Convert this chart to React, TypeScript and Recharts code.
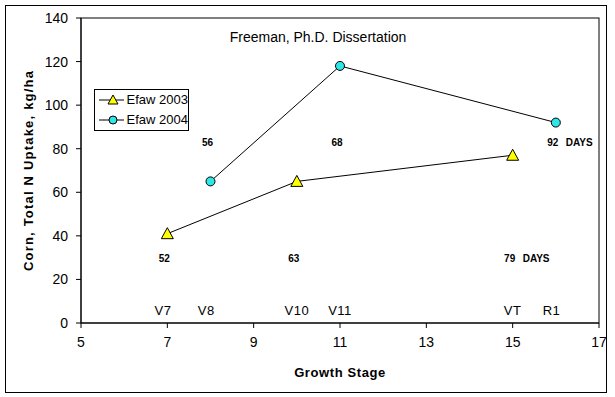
import {
  Label,
  Scatter,
  ScatterChart,
  XAxis,
  YAxis,
} from "recharts"

// growth stage (x) vs total N uptake, kg/ha (y)
const stage2003 = [7, 10, 15]
const uptake2003 = [41, 65, 77]
const stage2004 = [8, 11, 16]
const uptake2004 = [65, 118, 92]

// days after planting, written under / over the points
const days2003 = ["52", "63", "79"]
const days2003At = [7, 10, 15]
const days2004 = ["56", "68", "92"]
const days2004At = [8, 11, 16]
const daysLevel2003 = 30
const daysLevel2004 = 83

// stage names along the bottom
const stageNames = ["V7", "V8", "V10", "V11", "VT", "R1"]
const stageNameAt = [6.9, 7.9, 10, 11, 15, 15.9]
const stageNameLevel = 6

const xTicks = [5, 7, 9, 11, 13, 15, 17]
const yTicks = [0, 20, 40, 60, 80, 100, 120, 140]

const FONT = "Arial, 'Liberation Sans', sans-serif"
const YELLOW = "#ffff00"
const CYAN = "#2ee6e6"

const efaw2003 = stage2003.map((x, i) => ({ x, y: uptake2003[i] }))
const efaw2004 = stage2004.map((x, i) => ({ x, y: uptake2004[i] }))

const lastIdx2003 = days2003.length - 1
const lastIdx2004 = days2004.length - 1
const dayLabels = [
  ...days2003.map((label, i) => ({
    x: days2003At[i],
    y: daysLevel2003,
    label,
    suffix: i === lastIdx2003 ? "DAYS" : "",
  })),
  ...days2004.map((label, i) => ({
    x: days2004At[i],
    y: daysLevel2004,
    label,
    suffix: i === lastIdx2004 ? "DAYS" : "",
  })),
]

const stageLabels = stageNames.map((label, i) => ({
  x: stageNameAt[i],
  y: stageNameLevel,
  label,
}))

function Triangle(props: any) {
  const { cx, cy } = props
  if (cx == null || cy == null) return null
  const s = 6
  return (
    <polygon
      points={`${cx},${cy - s} ${cx + s},${cy + s - 1} ${cx - s},${cy + s - 1}`}
      fill={YELLOW}
      stroke="#000"
      strokeWidth={1}
    />
  )
}

function Dot(props: any) {
  const { cx, cy } = props
  if (cx == null || cy == null) return null
  return <circle cx={cx} cy={cy} r={4.5} fill={CYAN} stroke="#000" strokeWidth={1} />
}

function DayText(props: any) {
  const { cx, cy, payload } = props
  if (cx == null || cy == null) return null
  return (
    <g>
      <text
        x={cx - 3}
        y={cy + 4}
        textAnchor="middle"
        fontFamily={FONT}
        fontWeight="bold"
        fontSize={10}
        fill="#000"
      >
        {payload.label}
      </text>
      {payload.suffix && (
        <text
          x={cx + 10}
          y={cy + 4}
          fontFamily={FONT}
          fontWeight="bold"
          fontSize={10}
          fill="#000"
        >
          {payload.suffix}
        </text>
      )}
    </g>
  )
}

function StageText(props: any) {
  const { cx, cy, payload } = props
  if (cx == null || cy == null) return null
  return (
    <text
      x={cx}
      y={cy + 5}
      textAnchor="middle"
      fontFamily={FONT}
      fontSize={13}
      letterSpacing={0.5}
      fill="#000"
    >
      {payload.label}
    </text>
  )
}

function LegendBox() {
  const row = (name: string, marker: React.ReactNode) => (
    <div style={{ display: "flex", alignItems: "center", height: 20 }}>
      <svg width={30} height={14} style={{ marginRight: 3 }}>
        <line x1={1} y1={7} x2={29} y2={7} stroke="#000" strokeWidth={1} />
        {marker}
      </svg>
      <span>{name}</span>
    </div>
  )
  return (
    <div
      style={{
        position: "absolute",
        left: 94,
        top: 89,
        width: 95,
        height: 42,
        boxSizing: "border-box",
        border: "1px solid #000",
        background: "#fff",
        padding: "0 0 0 3px",
        fontFamily: FONT,
        fontSize: 13,
        lineHeight: "14px",
        whiteSpace: "nowrap",
      }}
    >
      {row(
        "Efaw 2003",
        <polygon points="15,2 20,11 10,11" fill={YELLOW} stroke="#000" />
      )}
      {row("Efaw 2004", <circle cx={15} cy={7} r={4} fill={CYAN} stroke="#000" />)}
    </div>
  )
}

export default function App() {
  return (
    <div
      style={{
        position: "absolute",
        left: 0,
        top: 0,
        width: 615,
        height: 397,
        background: "#fff",
      }}
    >
      <div
        style={{
          position: "absolute",
          left: 5,
          top: 5,
          width: 600,
          height: 386,
          border: "1px solid #000",
        }}
      />
      <ScatterChart
        width={615}
        height={397}
        margin={{ top: 18, right: 16, left: 0, bottom: 0 }}
        style={{ position: "absolute", left: 0, top: 0 }}
      >
        <rect x={81} y={18} width={518} height={305} fill="none" stroke="#000" />
        <XAxis
          type="number"
          dataKey="x"
          domain={[5, 17]}
          ticks={xTicks}
          interval={0}
          height={74}
          tickSize={5}
          tickMargin={9}
          stroke="#000"
          tick={{ fill: "#000", fontSize: 14, fontFamily: FONT }}
        >
          <Label
            value="Growth Stage"
            position="insideBottom"
            offset={20}
            fill="#000"
            fontSize={13}
            fontWeight="bold"
            fontFamily={FONT}
            style={{ letterSpacing: 0.6 }}
          />
        </XAxis>
        <YAxis
          type="number"
          dataKey="y"
          domain={[0, 140]}
          ticks={yTicks}
          interval={0}
          width={81}
          tickSize={5}
          tickMargin={8}
          stroke="#000"
          tick={{ fill: "#000", fontSize: 14, fontFamily: FONT }}
        >
          <Label
            value="Corn, Total N Uptake, kg/ha"
            angle={-90}
            position="insideLeft"
            offset={28}
            style={{ textAnchor: "middle", letterSpacing: 1.2 }}
            fill="#000"
            fontSize={13}
            fontWeight="bold"
            fontFamily={FONT}
          />
        </YAxis>
        <text
          x={318}
          y={42}
          textAnchor="middle"
          fontFamily={FONT}
          fontSize={14}
          fill="#000"
        >
          Freeman, Ph.D. Dissertation
        </text>
        <Scatter
          name="Efaw 2003"
          data={efaw2003}
          line={{ stroke: "#000", strokeWidth: 1 }}
          lineType="joint"
          shape={Triangle}
          isAnimationActive={false}
        />
        <Scatter
          name="Efaw 2004"
          data={efaw2004}
          line={{ stroke: "#000", strokeWidth: 1 }}
          lineType="joint"
          shape={Dot}
          isAnimationActive={false}
        />
        <Scatter
          name="days"
          data={dayLabels}
          shape={DayText}
          legendType="none"
          isAnimationActive={false}
        />
        <Scatter
          name="stages"
          data={stageLabels}
          shape={StageText}
          legendType="none"
          isAnimationActive={false}
        />
      </ScatterChart>
      <LegendBox />
    </div>
  )
}
